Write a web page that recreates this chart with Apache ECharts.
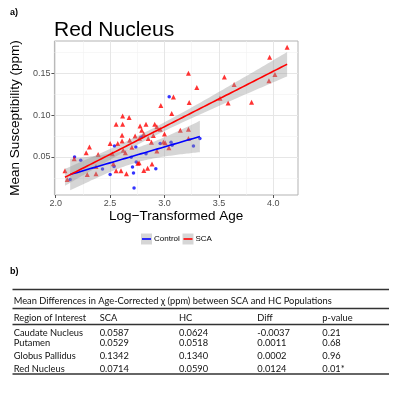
<!DOCTYPE html>
<html lang="en">
<head>
<meta charset="UTF-8">
<title>Red Nucleus</title>
<script src="https://cdn.jsdelivr.net/npm/echarts@6/dist/echarts.min.js"></script>
<style>
    body { margin: 0; background: #fff; }
    #root { width: 400px; height: 399px; }
</style>
</head>
<body>
<div id="root"></div>
<script>
// control group (blue)
var controlAge = [2.133, 2.173, 2.23, 2.43, 2.50, 2.536, 2.54, 2.694, 2.706, 2.715, 2.72, 2.736,
    2.74, 2.79, 2.83, 2.92, 2.96, 3.043, 3.06, 3.07, 3.266, 3.325];
var controlChi = [0.023, 0.050, 0.046, 0.0355, 0.029, 0.0385, 0.063, 0.0497, 0.038, 0.031, 0.013, 0.062,
    0.044, 0.074, 0.054, 0.036, 0.066, 0.122, 0.0675, 0.064, 0.063, 0.072];

// SCA group (red)
var scaAge = [4.127, 3.966, 4.015, 3.96, 3.55, 3.64, 3.51, 3.585, 3.80, 3.297, 3.22, 3.082, 3.227, 2.966, 3.066,
    2.615, 2.675, 2.555, 2.615, 2.775, 2.83, 2.91, 2.79, 2.81, 2.93, 2.96, 3.0, 3.145, 3.22, 2.897, 2.99, 3.006,
    3.04, 2.93, 3.22, 2.61, 2.61, 2.68, 2.85, 2.77, 2.73, 2.5, 2.57, 2.88, 2.70, 2.64, 2.62, 2.52, 2.39, 2.31,
    2.28, 2.17, 2.37, 2.085, 2.106, 2.29, 2.37, 2.555, 2.6, 2.65, 2.53, 2.755, 2.81, 2.845, 2.885, 2.766];
var scaChi = [0.181, 0.169, 0.1485, 0.141, 0.1456, 0.1366, 0.12, 0.1146, 0.1155, 0.133, 0.150, 0.1215, 0.115, 0.1115, 0.102,
    0.0988, 0.097, 0.089, 0.089, 0.087, 0.089, 0.089, 0.082, 0.0775, 0.086, 0.083, 0.0775, 0.082, 0.083, 0.0758, 0.068, 0.067,
    0.061, 0.057, 0.072, 0.076, 0.069, 0.070, 0.072, 0.0725, 0.075, 0.066, 0.066, 0.0675, 0.0615, 0.055, 0.058, 0.054, 0.053, 0.062,
    0.055, 0.048, 0.0385, 0.0335, 0.023, 0.029, 0.030, 0.0335, 0.0335, 0.030, 0.042, 0.0425, 0.034, 0.0365, 0.0415, 0.043];

var xTicks = [2.0, 2.5, 3.0, 3.5, 4.0];
var xMinor = [2.25, 2.75, 3.25, 3.75];
var yTicks = [0.05, 0.10, 0.15];
var yMinor = [0.025, 0.075, 0.125, 0.175];

// table b)
var tableTitle = 'Mean Differences in Age-Corrected \u03c7 (ppm) between SCA and HC Populations';
var tableHeader = ['Region of Interest', 'SCA', 'HC', 'Diff', 'p-value'];
var regions = ['Caudate Nucleus', 'Putamen', 'Globus Pallidus', 'Red Nucleus'];
var scaMeans = ['0.0587', '0.0529', '0.1342', '0.0714'];
var hcMeans = ['0.0624', '0.0518', '0.1340', '0.0590'];
var diffs = ['-0.0037', '0.0011', '0.0002', '0.0124'];
var pValues = ['0.21', '0.68', '0.96', '0.01*'];

function pairs(xs, ys) {
    return xs.map(function (x, i) { return [x, ys[i]]; });
}

// linear fit with 95% confidence band, like geom_smooth(method = "lm")
function lmBand(xs, ys) {
    var n = xs.length, mx = 0, my = 0, sxx = 0, sxy = 0, sse = 0, i;
    for (i = 0; i < n; i++) { mx += xs[i]; my += ys[i]; }
    mx /= n; my /= n;
    for (i = 0; i < n; i++) {
        sxx += (xs[i] - mx) * (xs[i] - mx);
        sxy += (xs[i] - mx) * (ys[i] - my);
    }
    var b = sxy / sxx, a = my - b * mx;
    for (i = 0; i < n; i++) { var r = ys[i] - a - b * xs[i]; sse += r * r; }
    var s = Math.sqrt(sse / (n - 2));
    var df = n - 2, z = 1.959964;
    var t = z + (z * z * z + z) / (4 * df) + (5 * Math.pow(z, 5) + 16 * z * z * z + 3 * z) / (96 * df * df);
    var x0 = Math.min.apply(null, xs), x1 = Math.max.apply(null, xs);
    var fit = [], band = [];
    for (i = 0; i <= 80; i++) {
        var x = x0 + (x1 - x0) * i / 80;
        var f = a + b * x;
        var se = s * Math.sqrt(1 / n + (x - mx) * (x - mx) / sxx);
        fit.push([x, f]);
        band.push([x, f - t * se, f + t * se]);
    }
    return { fit: fit, band: band };
}

var ctl = lmBand(controlAge, controlChi);
var sca = lmBand(scaAge, scaChi);

// ribbon drawn as one polygon through the axes
function bandSeries(band) {
    return {
        type: 'custom', silent: true, z: 3,
        data: [band[0]],
        renderItem: function (params, api) {
            var top = band.map(function (d) { return api.coord([d[0], d[2]]); });
            var bottom = band.map(function (d) { return api.coord([d[0], d[1]]); }).reverse();
            return {
                type: 'polygon',
                shape: { points: top.concat(bottom) },
                style: { fill: 'rgba(153,153,153,0.4)' }
            };
        }
    };
}

var labelFont = 'Liberation Sans';
var tableFont = 'Lato';

function txt(text, x, y, size, extra) {
    var o = { type: 'text', x: x, y: y, style: { text: text, fontFamily: labelFont, fontSize: size, fill: '#000', verticalAlign: 'middle' } };
    if (extra) { for (var k in extra) o.style[k] = extra[k]; }
    return o;
}

var graphics = [
    txt('a)', 10, 13, 9, { fontWeight: 'bold' }),
    txt('b)', 10, 272, 9, { fontWeight: 'bold' }),
    // legend
    { type: 'rect', shape: { x: 141, y: 233.5, width: 11, height: 11 }, style: { fill: '#d6d6d6' } },
    { type: 'line', shape: { x1: 142, y1: 239, x2: 151, y2: 239 }, style: { stroke: '#0000ff', lineWidth: 1.6 } },
    txt('Control', 154, 239, 8),
    { type: 'rect', shape: { x: 182.5, y: 233.5, width: 11, height: 11 }, style: { fill: '#d6d6d6' } },
    { type: 'line', shape: { x1: 183.5, y1: 239, x2: 192.5, y2: 239 }, style: { stroke: '#ff0000', lineWidth: 1.6 } },
    txt('SCA', 195.5, 239, 8)
];

// table rules
[289.5, 308.5, 324.5, 374].forEach(function (y) {
    graphics.push({ type: 'line', shape: { x1: 12.5, y1: y, x2: 389, y2: y }, style: { stroke: '#333', lineWidth: 1.3 } });
});
var colX = [13.7, 99.7, 179, 257.3, 322.3];
var rowY = [332.7, 343, 356, 368.7];
function cell(text, x, y) {
    graphics.push(txt(text, x, y, 9.3, { fontFamily: tableFont, fill: '#111' }));
}
cell(tableTitle, 13.7, 300.5);
tableHeader.forEach(function (h, j) { cell(h, colX[j], 317.5); });
regions.forEach(function (r, i) {
    var row = [r, scaMeans[i], hcMeans[i], diffs[i], pValues[i]];
    row.forEach(function (v, j) { cell(v, colX[j], rowY[i]); });
});

var chart = echarts.init(document.getElementById('root'));
chart.setOption({
    animation: false,
    title: {
        text: 'Red Nucleus', left: 49, top: 15,
        textStyle: { fontFamily: labelFont, fontSize: 21, fontWeight: 'normal', color: '#000' }
    },
    grid: {
        left: 52, top: 41, width: 246, height: 154, show: true,
        borderColor: '#b3b3b3', borderWidth: 1, backgroundColor: '#fff'
    },
    xAxis: [{
        type: 'value', min: 1.988, max: 4.227,
        name: 'Log\u2212Transformed Age', nameLocation: 'middle', nameGap: 13,
        nameTextStyle: { fontFamily: labelFont, fontSize: 13.5, color: '#000', verticalAlign: 'top' },
        axisLine: { show: false },
        axisTick: { show: true, length: 3, customValues: xTicks, lineStyle: { color: '#555' } },
        axisLabel: { customValues: xTicks, margin: 4, fontFamily: labelFont, fontSize: 9, color: '#4d4d4d',
            formatter: function (v) { return v.toFixed(1); } },
        splitLine: { show: true, lineStyle: { color: '#e6e6e6', width: 1 } }
    }, {
        type: 'value', min: 1.988, max: 4.227, position: 'bottom',
        axisLine: { show: false },
        axisTick: { show: false, customValues: xMinor },
        axisLabel: { show: false, customValues: xMinor },
        splitLine: { show: true, lineStyle: { color: '#f2f2f2', width: 0.6 } }
    }],
    yAxis: [{
        type: 'value', min: 0.0046, max: 0.1885,
        name: 'Mean Susceptibility (ppm)', nameLocation: 'middle', nameGap: 21,
        nameTextStyle: { fontFamily: labelFont, fontSize: 13.5, color: '#000' },
        axisLine: { show: false },
        axisTick: { show: true, length: 3, customValues: yTicks, lineStyle: { color: '#555' } },
        axisLabel: { customValues: yTicks, margin: 4, fontFamily: labelFont, fontSize: 9, color: '#4d4d4d',
            formatter: function (v) { return v.toFixed(2); } },
        splitLine: { show: true, lineStyle: { color: '#e6e6e6', width: 1 } }
    }, {
        type: 'value', min: 0.0046, max: 0.1885, position: 'left',
        axisLine: { show: false },
        axisTick: { show: false, customValues: yMinor },
        axisLabel: { show: false, customValues: yMinor },
        splitLine: { show: true, lineStyle: { color: '#f2f2f2', width: 0.6 } }
    }],
    series: [{
        name: 'Control', type: 'scatter', data: pairs(controlAge, controlChi),
        symbol: 'circle', symbolSize: 3.5, itemStyle: { color: '#0000ff' }, z: 2
    }, {
        name: 'SCA', type: 'scatter', data: pairs(scaAge, scaChi),
        symbol: 'triangle', symbolSize: 5, itemStyle: { color: '#ff0000' }, z: 2
    }, bandSeries(ctl.band), bandSeries(sca.band), {
        type: 'line', data: ctl.fit, showSymbol: false, z: 4,
        lineStyle: { color: '#0000ff', width: 1.6 }
    }, {
        type: 'line', data: sca.fit, showSymbol: false, z: 4,
        lineStyle: { color: '#ff0000', width: 1.6 }
    }],
    graphic: graphics
});
</script>
</body>
</html>
